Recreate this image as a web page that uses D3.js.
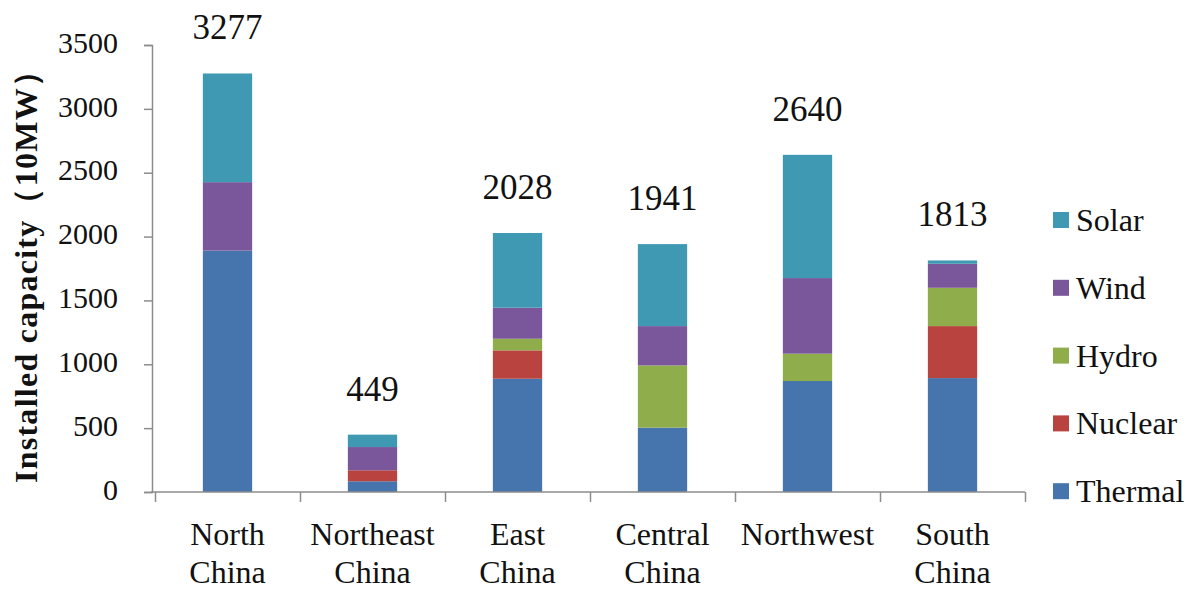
<!DOCTYPE html>
<html>
<head>
<meta charset="utf-8">
<script src="https://cdn.jsdelivr.net/npm/d3@7"></script>
<style>
  body { margin: 0; background: #fff; }
</style>
</head>
<body>
<div class="container"></div>
<script>
const categories = ["North China", "Northeast China", "East China", "Central China", "Northwest", "South China"]
const seriesNames = ["Thermal", "Nuclear", "Hydro", "Wind", "Solar"]
const thermal = [1890, 84, 887, 504, 869, 892]
const nuclear = [0, 86, 222, 0, 0, 407]
const hydro = [0, 0, 91, 487, 214, 300]
const wind = [536, 182, 243, 308, 592, 188]
const solar = [851, 97, 585, 642, 965, 26]
const totals = [3277, 449, 2028, 1941, 2640, 1813]
const yTicks = [0, 500, 1000, 1500, 2000, 2500, 3000, 3500]

const colors = ["#4674ad", "#b8433f", "#8fad4b", "#7a569b", "#4099b3"]

const w = 1200
const h = 590
const serif = "'Liberation Serif', 'DejaVu Serif', 'Times New Roman', serif"

// rows for d3.stack
const rows = categories.map((c, i) => ({
    cat: c,
    Thermal: thermal[i],
    Nuclear: nuclear[i],
    Hydro: hydro[i],
    Wind: wind[i],
    Solar: solar[i]
}))
const stacked = d3.stack().keys(seriesNames)(rows)

const xScale = d3.scaleBand()
                 .domain(categories)
                 .range([155, 1025])
                 .paddingInner(0.66)
                 .paddingOuter(0.33)
// boundaries between categories, for the tick marks
const xEdges = d3.scaleLinear().domain([0, categories.length]).range([155, 1025])

const yScale = d3.scaleLinear()
                 .domain([0, 3500])
                 .range([492, 45])

const color = d3.scaleOrdinal().domain(seriesNames).range(colors)

const svg = d3.select(".container")
              .append("svg")
              .attr("width", w)
              .attr("height", h)

svg.selectAll("g.layer")
   .data(stacked)
   .enter()
   .append("g")
   .attr("class", "layer")
   .attr("fill", d => color(d.key))
   .selectAll("rect")
   .data(d => d)
   .enter()
   .append("rect")
   .attr("x", d => xScale(d.data.cat))
   .attr("y", d => yScale(d[1]))
   .attr("width", xScale.bandwidth())
   .attr("height", d => yScale(d[0]) - yScale(d[1]))

// total labels above bars
svg.selectAll("text.total")
   .data(totals)
   .enter()
   .append("text")
   .attr("class", "total")
   .attr("x", (d, i) => xScale(categories[i]) + xScale.bandwidth() / 2)
   .attr("y", d => yScale(d) - 34)
   .attr("text-anchor", "middle")
   .style("font-size", "35px")
   .text(d => d)

// y axis
const yAxis = svg.append("g")
   .attr("id", "y-axis")
   .attr("transform", "translate(152, 0)")
   .call(d3.axisLeft(yScale).tickValues(yTicks).tickSize(8).tickPadding(26).tickFormat(d3.format("d")))
yAxis.selectAll("text").style("font-size", "30px").attr("dy", "0.24em")

// x axis: boundary ticks
const xAxis = svg.append("g")
   .attr("id", "x-axis")
   .attr("transform", "translate(0, 492)")
   .call(d3.axisBottom(xEdges).tickValues(d3.range(categories.length + 1)).tickSize(10).tickFormat(""))
xAxis.select(".domain").attr("d", "M151,0H1025")

// x labels on two lines
const xLabels = svg.append("g")
   .attr("transform", "translate(0, 492)")
   .call(d3.axisBottom(xScale).tickSize(0).tickPadding(0))
xLabels.select(".domain").remove()
xLabels.selectAll("text")
   .style("font-size", "32px")
   .attr("y", 0)
   .attr("dy", null)
   .text(null)
   .each(function (d) {
       const parts = d.split(" ")
       const t = d3.select(this)
       parts.forEach((p, k) => {
           t.append("tspan")
            .attr("x", 0)
            .attr("y", 53 + k * 38)
            .text(p)
       })
   })

svg.selectAll(".domain, .tick line")
   .attr("stroke", "#8c8c8c")
   .attr("stroke-width", 1.5)

// y axis title
svg.append("text")
   .attr("transform", "translate(37, 483) rotate(-90)")
   .attr("text-anchor", "start")
   .attr("textLength", 428)
   .attr("lengthAdjust", "spacing")
   .style("font-size", "32px")
   .style("font-weight", "bold")
   .text("Installed capacity（10MW）")

// legend, Solar on top
const legend = svg.selectAll("g.legend")
   .data(seriesNames.slice().reverse())
   .enter()
   .append("g")
   .attr("class", "legend")
   .attr("transform", (d, i) => `translate(1053, ${231 + i * 67.8})`)
legend.append("rect")
   .attr("x", 0)
   .attr("y", -19)
   .attr("width", 16)
   .attr("height", 16)
   .attr("fill", d => color(d))
legend.append("text")
   .attr("x", 23)
   .attr("y", 0)
   .style("font-size", "32px")
   .text(d => d)

svg.selectAll("g").attr("font-family", null)
svg.selectAll("text")
   .style("font-family", serif)
   .style("fill", "#111")
</script>
</body>
</html>
